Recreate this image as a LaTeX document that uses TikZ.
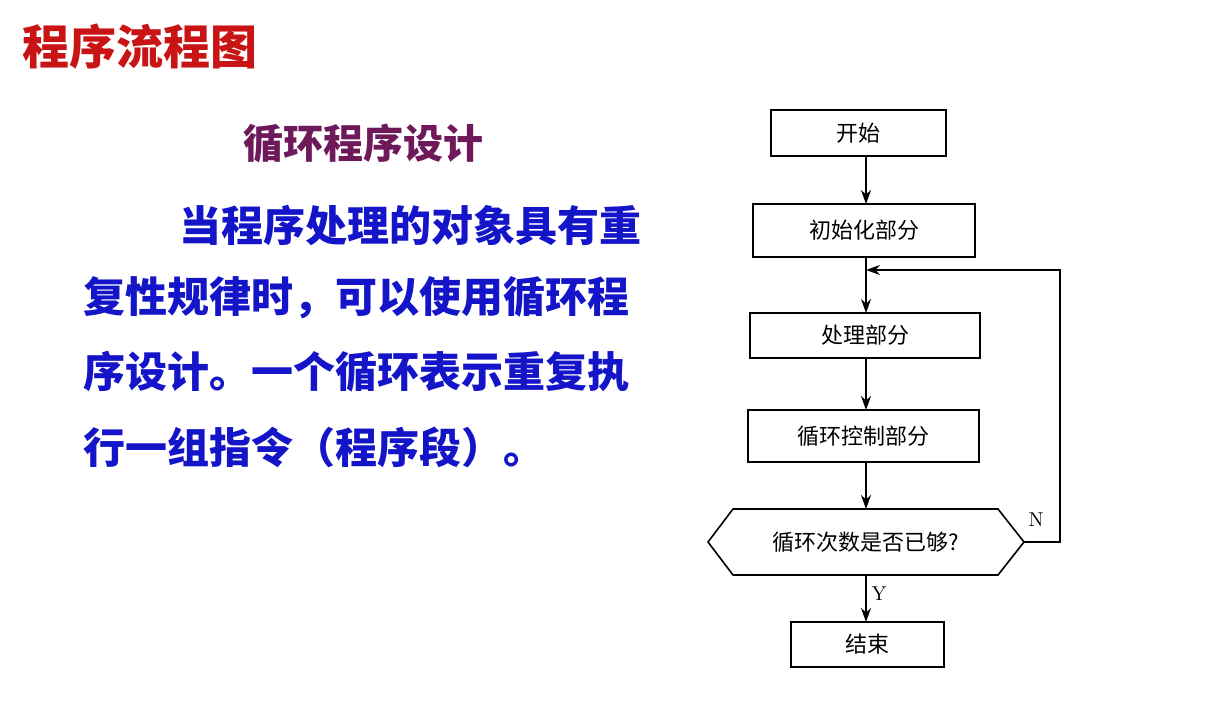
\documentclass[tikz,border=0pt]{standalone}
\usepackage{fontspec}
\newfontfamily\cjk{Noto Sans CJK SC}
\usetikzlibrary{arrows.meta}
\definecolor{ttl}{RGB}{200,20,20}
\definecolor{sub}{RGB}{110,25,90}
\definecolor{para}{RGB}{20,20,200}
\begin{document}
\begin{tikzpicture}[x=0.5pt,y=-0.5pt,
  box/.style={draw,thick,minimum height=0pt,inner sep=0pt,font=\cjk\fontsize{11}{13}\selectfont},
  arr/.style={thick,-{Stealth[length=7pt,width=5pt]}},
  para/.style={anchor=west,text=para,font=\cjk\bfseries\fontsize{21}{24}\selectfont}]
\useasboundingbox (0,0) rectangle (1209,721);
\fill[white] (0,0) rectangle (1209,721);
\node[text=ttl,font=\cjk\bfseries\fontsize{23.5}{26}\selectfont] (t) at (140,47) {程序流程图};
\node[text=sub,font=\cjk\bfseries\fontsize{20}{22}\selectfont] (s) at (363,143) {循环程序设计};
\node[para] (p1) at (172,225) {当程序处理的对象具有重};
\node[para] (p2) at (76,298) {复性规律时，可以使用循环程};
\node[para] (p3) at (76,372) {序设计。一个循环表示重复执};
\node[para] (p4) at (76,447) {行一组指令（程序段）。};
\node[box,minimum width=87.5pt,minimum height=23pt] (a) at (858.5,133) {开始};
\node[box,minimum width=111pt,minimum height=26.5pt] (b) at (864,230.5) {初始化部分};
\node[box,minimum width=115pt,minimum height=22.5pt] (c) at (865,335.5) {处理部分};
\node[box,minimum width=115.5pt,minimum height=26pt] (d) at (863.5,436) {循环控制部分};
\draw[thick] (708,542) -- (733,509) -- (998,509) -- (1024,542) -- (998,575) -- (733,575) -- cycle;
\node[font=\cjk\fontsize{11}{13}\selectfont] (e) at (866,542) {循环次数是否已够?};
\coordinate (er) at (1024,542);
\node[box,minimum width=76.5pt,minimum height=22.5pt] (f) at (867.5,644.5) {结束};
\coordinate (m) at (866,270);
\draw[arr] (866,156) -- (866,204);
\draw[arr] (866,257) -- (866,313);
\draw[arr] (866,358) -- (866,410);
\draw[arr] (866,462) -- (866,509);
\draw[arr] (866,575) -- (866,622);
\draw[arr] (er) -- (1060,542) -- (1060,270) -- (m);
\node[font=\fontsize{10}{12}\selectfont] (n) at (1036,520) {N};
\node[font=\fontsize{10}{12}\selectfont] (y) at (879,594) {Y};
\end{tikzpicture}
\end{document}
